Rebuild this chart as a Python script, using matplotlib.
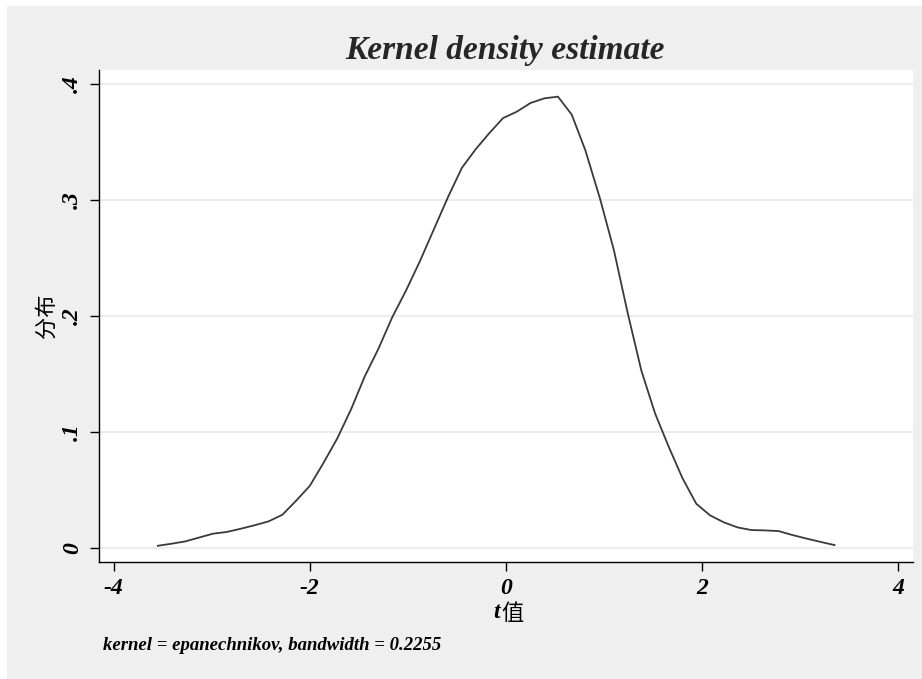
import matplotlib
matplotlib.use("Agg")
import matplotlib.pyplot as plt
from matplotlib.patches import Rectangle

# kernel density curve (50 evaluation points)
t_vals = [-3.55, -3.41, -3.27, -3.13, -2.99, -2.85, -2.71, -2.56, -2.42, -2.28,
          -2.14, -2.00, -1.86, -1.72, -1.58, -1.44, -1.30, -1.16, -1.02, -0.88,
          -0.73, -0.59, -0.45, -0.31, -0.17, -0.03, 0.11, 0.25, 0.39, 0.53,
          0.67, 0.81, 0.96, 1.10, 1.24, 1.38, 1.52, 1.66, 1.80, 1.94,
          2.08, 2.22, 2.36, 2.50, 2.64, 2.78, 2.92, 3.07, 3.21, 3.35]
density = [0.0017, 0.0035, 0.0055, 0.0088, 0.0121, 0.0136, 0.0163, 0.0195, 0.0228, 0.0285,
           0.0406, 0.0535, 0.0734, 0.0945, 0.1195, 0.148, 0.172, 0.199, 0.222, 0.247,
           0.276, 0.303, 0.328, 0.344, 0.358, 0.371, 0.3765, 0.384, 0.388, 0.3895,
           0.374, 0.343, 0.301, 0.257, 0.203, 0.153, 0.116, 0.087, 0.060, 0.038,
           0.028, 0.022, 0.0176, 0.0153, 0.0150, 0.0144, 0.011, 0.0078, 0.005, 0.0023]

xticks = [-4, -2, 0, 2, 4]
xtick_labels = ["-4", "-2", "0", "2", "4"]
yticks = [0, 0.1, 0.2, 0.3, 0.4]
ytick_labels = ["0", ".1", ".2", ".3", ".4"]

serif = "Liberation Serif"
bi = dict(fontfamily=serif, fontweight="bold", fontstyle="italic")

fig = plt.figure(figsize=(9.22, 6.79), dpi=100)
fig.patch.set_facecolor("white")
# stata-style grey background, thin white edge on top/left
fig.patches.append(Rectangle((7 / 922, 0), 1, 1 - 6 / 679, transform=fig.transFigure,
                             facecolor="#efefef", edgecolor="none", zorder=-10))

ax = fig.add_axes([99 / 922, 1 - 562 / 679, (913 - 99) / 922, (562 - 70) / 679])
ax.set_facecolor("white")

for y in yticks:
    ax.axhline(y, color="#ebebeb", lw=1.3, zorder=1)

ax.plot(t_vals, density, color="#3a3a3a", lw=1.3, zorder=3)

ax.set_xlim(-4.15, 4.15)
ax.set_ylim(-0.0123, 0.4125)
ax.set_xticks(xticks)
ax.set_xticklabels(xtick_labels, fontsize=17, **bi)
ax.set_yticks(yticks)
ax.set_yticklabels(ytick_labels, fontsize=17, rotation=90, va="center", **bi)
ax.tick_params(axis="both", direction="out", length=6.5, width=1, color="black", pad=5)

for side in ["top", "right"]:
    ax.spines[side].set_visible(False)
for side in ["left", "bottom"]:
    ax.spines[side].set_color("black")
    ax.spines[side].set_linewidth(1)

fig.text(505 / 922, 1 - 50 / 679, "Kernel density estimate", ha="center", va="center",
         fontsize=24, color="#262626", **bi)

# x axis title: italic t followed by the CJK character
fig.text(500 / 922, 1 - 613 / 679, "t", ha="right", va="center", fontsize=17, **bi)
fig.text(501 / 922, 1 - 614 / 679, "值", ha="left", va="center",
         family=["Noto Sans CJK SC"], fontsize=16)

fig.text(46 / 922, 1 - 316 / 679, "分布", ha="center", va="center", rotation=90,
         family=["Noto Sans CJK SC"], fontsize=16)

fig.text(103 / 922, 1 - 645 / 679, "kernel = epanechnikov, bandwidth = 0.2255",
         ha="left", va="center", fontsize=13.5, **bi)

fig.savefig("out.png", dpi=100)
